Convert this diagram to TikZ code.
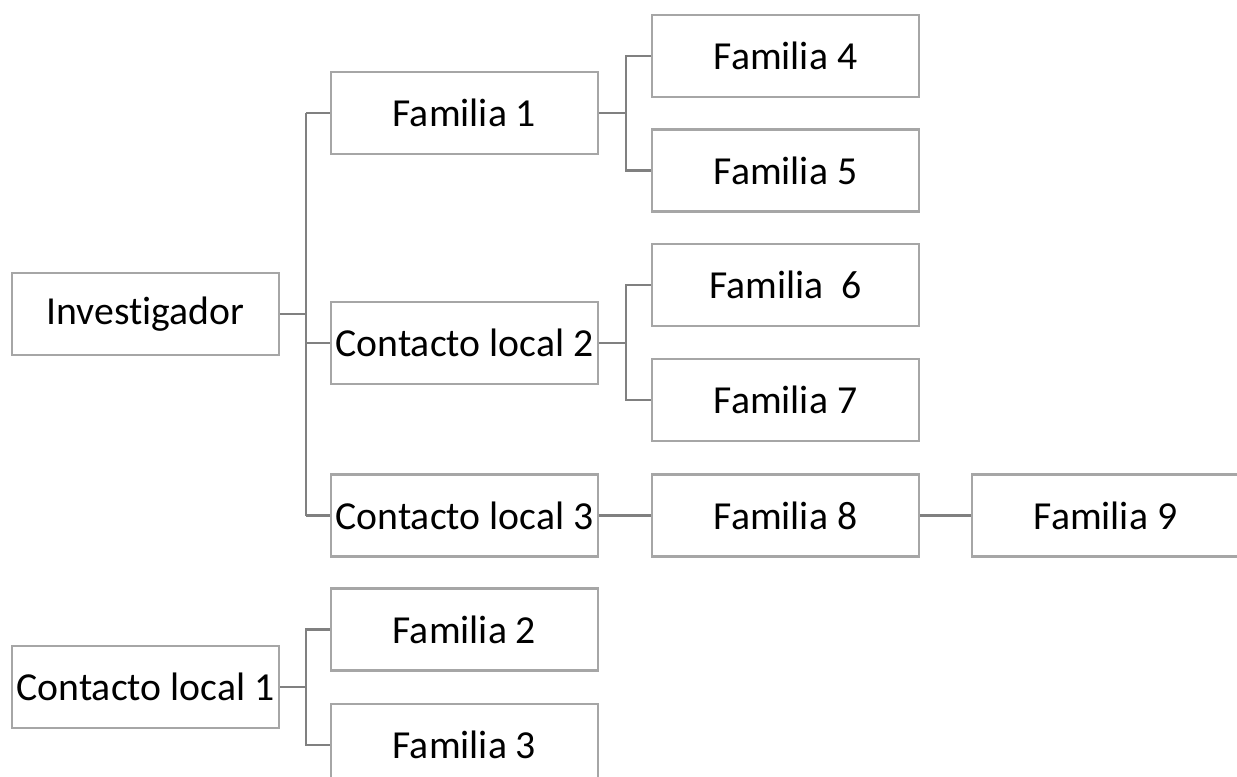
\documentclass[tikz,border=0pt]{standalone}
\usepackage{fontspec}
\setmainfont[Ligatures=NoCommon]{Carlito}
\tikzstyle{fam}=[shape=rectangle,
                 draw=black!35,
                 line width=1.3pt,
                 inner sep=0pt,
                 minimum height=1.64cm,
                 minimum width=5.34cm,
                 font=\fontsize{22.6}{26}\selectfont]
\tikzstyle{link}=[draw=black!50,
                  line width=1.3pt]

\begin{document}
\begin{tikzpicture}
\useasboundingbox (0,0) rectangle (24.74,-15.52);

% root
\node[fam] (inv) at (2.91, -6.28) {Investigador};

% second level
\node[fam] (f1) at (9.29, -2.26) {Familia 1};
\node[fam] (cl2) at (9.29, -6.86) {Contacto local 2};
\node[fam] (cl3) at (9.29, -10.31) {Contacto local 3};

% third level
\node[fam] (f4) at (15.71, -1.12) {Familia 4};
\node[fam] (f5) at (15.71, -3.41) {Familia 5};
\node[fam] (f6) at (15.71, -5.70) {Familia~~6};
\node[fam] (f7) at (15.71, -8.00) {Familia 7};
\node[fam] (f8) at (15.71, -10.31) {Familia 8};
\node[fam] (f9) at (22.11, -10.31) {Familia 9};

% separate tree
\node[fam] (cl1) at (2.91, -13.74) {Contacto local 1};
\node[fam] (f2) at (9.29, -12.59) {Familia 2};
\node[fam] (f3) at (9.29, -14.90) {Familia 3};

% connectors
\draw[link] (inv.east) -- ++(0.52,0) coordinate (j1);
\draw[link] (j1 |- f1.west) -- (j1 |- cl3.west);
\path[link] (j1 |- f1.west) -- (f1.west)
            (j1 |- cl2.west) -- (cl2.west)
            (j1 |- cl3.west) -- (cl3.west);

\draw[link] (f1.east) -- ++(0.54,0) coordinate (j2);
\path[link] (j2) |- (f4.west)
            (j2) |- (f5.west);

\draw[link] (cl2.east) -- ++(0.54,0) coordinate (j3);
\path[link] (j3) |- (f6.west)
            (j3) |- (f7.west);

\draw[link] (cl3.east) -- (f8.west);
\draw[link] (f8.east) -- (f9.west);

\draw[link] (cl1.east) -- ++(0.52,0) coordinate (j4);
\path[link] (j4) |- (f2.west)
            (j4) |- (f3.west);
\end{tikzpicture}
\end{document}
